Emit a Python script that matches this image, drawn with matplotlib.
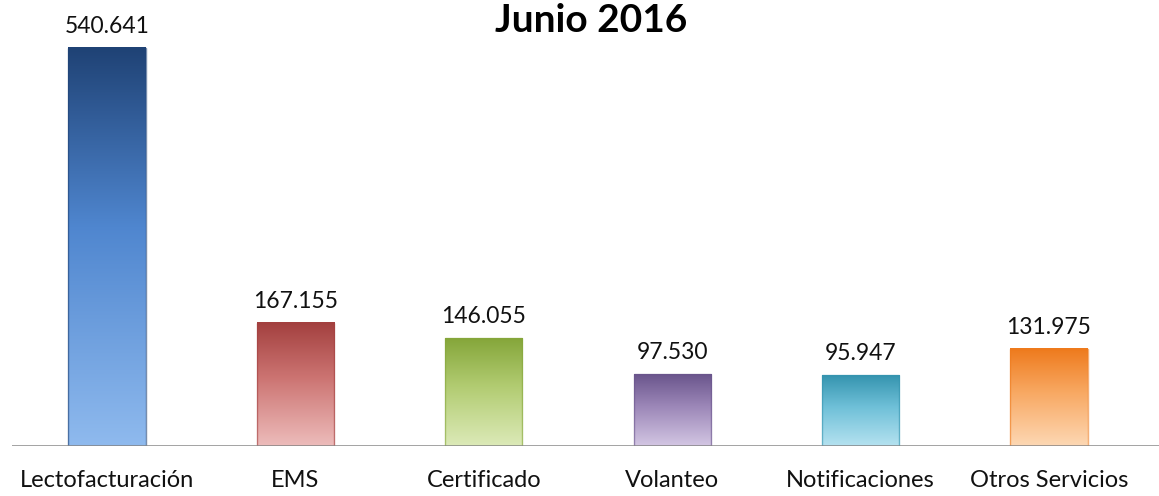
import matplotlib
matplotlib.use('Agg')
import matplotlib.pyplot as plt
import numpy
from matplotlib.colors import LinearSegmentedColormap

plt.rcParams['font.family'] = ['Lato', 'DejaVu Sans']

# Data
categories = ['Lectofacturación', 'EMS', 'Certificado', 'Volanteo', 'Notificaciones', 'Otros Servicios']
values = [540641, 167155, 146055, 97530, 95947, 131975]
value_labels = ['540.641', '167.155', '146.055', '97.530', '95.947', '131.975']
top_colors = ['#1F4275', '#A3403F', '#85A63A', '#6A558C', '#3594AF', '#EE7A1C']
mid_colors = ['#4F86CF', '#CC7472', '#B2CC72', '#9C87B8', '#6FC0D8', '#F8A862']
bottom_colors = ['#8FBAEE', '#EDBCBB', '#DCEAB8', '#D3C6E3', '#B5E2F0', '#FDD8B4']

bar_width = 0.41

fig = plt.figure(figsize = (11.59, 4.96), dpi = 100)
ax = fig.add_axes([12/1159, 50/496, 1 - 12/1159, 446/496])
ax.set_xlim(-0.504, 5.584)
ax.set_ylim(0, 605800)

grad = numpy.linspace(0, 1, 256).reshape(-1, 1)
for i, v in enumerate(values):
    cmap = LinearSegmentedColormap.from_list('g%d' % i, [(0, bottom_colors[i]), (0.55, mid_colors[i]), (1, top_colors[i])])
    x0 = i - bar_width / 2
    x1 = i + bar_width / 2
    ax.imshow(grad, cmap = cmap, aspect = 'auto', origin = 'lower',
              extent = (x0, x1, 0, v), zorder = 2, interpolation = 'bilinear')
    # outline
    ax.bar(i, v, width = bar_width, facecolor = 'none', edgecolor = top_colors[i],
           linewidth = 1.0, alpha = 0.6, zorder = 3)
    ax.annotate(value_labels[i], (i, v), xytext = (0, 8), textcoords = 'offset points',
                ha = 'center', va = 'bottom', fontsize = 16.5, color = '#111111')

ax.axhline(0, color = '#888888', linewidth = 1.8, zorder = 4)

ax.set_xticks(range(len(categories)))
ax.set_xticklabels(categories, fontsize = 17, color = '#111111')
ax.tick_params(axis = 'x', length = 0, pad = 17)
ax.set_yticks([])
for s in ax.spines.values():
    s.set_visible(False)

fig.text(0.51, 0.958, 'Junio 2016', ha = 'center', va = 'center', fontsize = 28, fontweight = 'bold')

fig.savefig('out.png', dpi = 100)
